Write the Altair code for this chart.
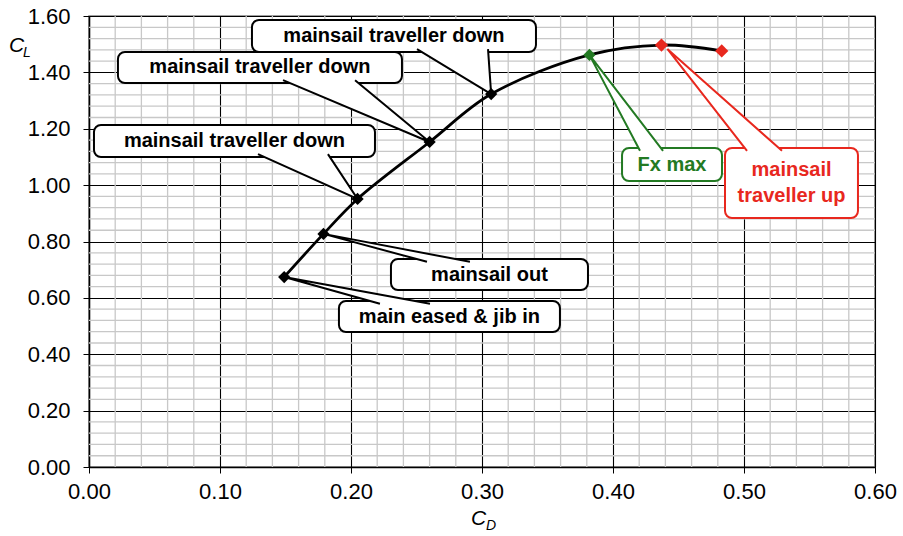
import altair as alt
import pandas as pd

# ---- data ----
cd = [0.149, 0.179, 0.205, 0.260, 0.307, 0.382, 0.437, 0.483]
cl = [0.674, 0.827, 0.951, 1.153, 1.323, 1.462, 1.497, 1.476]
group = ["base", "base", "base", "base", "base", "fx", "up", "up"]

x_ticks = [0.0, 0.1, 0.2, 0.3, 0.4, 0.5, 0.6]
y_ticks = [0.0, 0.2, 0.4, 0.6, 0.8, 1.0, 1.2, 1.4, 1.6]

labels = ["mainsail traveller down", "mainsail traveller down", "mainsail traveller down",
          "mainsail out", "main eased & jib in", "Fx max", "mainsail\ntraveller up"]
label_point = [4, 3, 2, 1, 0, 5, 6]
label_group = ["base", "base", "base", "base", "base", "fx", "up"]

# ---- annotation layout (data units) ----
box_x1 = [0.1244, 0.0221, 0.0038, 0.2305, 0.1908, 0.4069, 0.4855]
box_x2 = [0.3412, 0.2389, 0.2183, 0.3809, 0.3595, 0.4832, 0.5870]
box_y1 = [1.4723, 1.3623, 1.0998, 0.6279, 0.4789, 1.0146, 0.8834]
box_y2 = [1.5858, 1.4723, 1.2133, 0.7379, 0.5889, 1.1317, 1.1317]
wedge_b1 = [0.2504, 0.1481, 0.1290, 0.2580, 0.2221, 0.4206, 0.5023]
wedge_b2 = [0.3046, 0.2031, 0.1824, 0.2908, 0.2603, 0.4382, 0.5290]
wedge_side = ["bottom", "bottom", "bottom", "top", "top", "top", "top"]
apex_shift = [(0, 0)] * 6 + [(0.0045, -0.014)]

colors = {"base": "#000000", "fx": "#237a23", "up": "#e8281e"}

pts = pd.DataFrame({"cd": cd, "cl": cl, "g": group, "o": list(range(len(cd))),
                    "s": [150 if g != "up" else 175 for g in group]})

boxes = pd.DataFrame({"x1": box_x1, "x2": box_x2, "y1": box_y1, "y2": box_y2,
                      "g": label_group})

eps = 0.01
wrows = []
for i in range(len(labels)):
    if wedge_side[i] == "bottom":
        by = box_y1[i] + eps
    else:
        by = box_y2[i] - eps
    p = label_point[i]
    ax = cd[p] + apex_shift[i][0]
    ay = cl[p] + apex_shift[i][1]
    wrows += [
        {"id": i, "ord": 0, "x": wedge_b1[i], "y": by, "g": label_group[i]},
        {"id": i, "ord": 1, "x": ax, "y": ay, "g": label_group[i]},
        {"id": i, "ord": 2, "x": wedge_b2[i], "y": by, "g": label_group[i]},
    ]
wedges = pd.DataFrame(wrows)

trows = []
for i, lab in enumerate(labels):
    lines = lab.split("\n")
    cx = (box_x1[i] + box_x2[i]) / 2
    cy = (box_y1[i] + box_y2[i]) / 2
    if len(lines) == 1:
        trows.append({"t": lab, "x": cx, "y": cy, "g": label_group[i]})
    else:
        trows.append({"t": lines[0], "x": cx, "y": cy + 0.046, "g": label_group[i]})
        trows.append({"t": lines[1], "x": cx, "y": cy - 0.046, "g": label_group[i]})
texts = pd.DataFrame(trows)

minor_x = [round(i * 0.02, 2) for i in range(31) if i % 5 != 0]
minor_y = [round(i * 0.04, 2) for i in range(41) if i % 5 != 0]

FONT = "Liberation Sans"
xs = alt.Scale(domain=[0, 0.6], nice=False, zero=False)
ys = alt.Scale(domain=[0, 1.6], nice=False, zero=False)
cscale = alt.Scale(domain=list(colors.keys()), range=list(colors.values()))

x_axis = alt.Axis(values=x_ticks, format=".2f", title=None, labelFont=FONT,
                  labelFontSize=22, labelColor="black", tickColor="black",
                  tickSize=6, domainColor="black", domainWidth=1.5, gridColor="black",
                  gridWidth=1.1, labelPadding=8, grid=True, labelFlush=False,
                  labelOverlap=False)
y_axis = alt.Axis(values=y_ticks, format=".2f", title=None, labelFont=FONT,
                  labelFontSize=22, labelColor="black", tickColor="black",
                  tickSize=6, domainColor="black", domainWidth=1.5, gridColor="black",
                  gridWidth=1.1, labelPadding=13, grid=True, labelFlush=False,
                  labelOverlap=False)

base_axes = alt.Chart(pts).mark_point(opacity=0).encode(
    x=alt.X("cd:Q", scale=xs, axis=x_axis),
    y=alt.Y("cl:Q", scale=ys, axis=y_axis),
)

mgx = alt.Chart(pd.DataFrame({"v": minor_x})).mark_rule(
    color="#c8c8c8", strokeWidth=1.3).encode(x=alt.X("v:Q", scale=xs))
mgy = alt.Chart(pd.DataFrame({"v": minor_y})).mark_rule(
    color="#c8c8c8", strokeWidth=1.3).encode(y=alt.Y("v:Q", scale=ys))

box_layer = alt.Chart(boxes).mark_rect(
    fill="white", cornerRadius=7, strokeWidth=2).encode(
    x=alt.X("x1:Q", scale=xs), x2="x2:Q",
    y=alt.Y("y1:Q", scale=ys), y2="y2:Q",
    stroke=alt.Color("g:N", scale=cscale, legend=None),
)

wedge_layer = alt.Chart(wedges).mark_line(
    fill="white", strokeWidth=2, strokeJoin="miter").encode(
    x=alt.X("x:Q", scale=xs), y=alt.Y("y:Q", scale=ys),
    detail="id:N", order="ord:Q",
    stroke=alt.Color("g:N", scale=cscale, legend=None),
)

curve = alt.Chart(pts).mark_line(
    color="black", strokeWidth=2.8, interpolate="catmull-rom").encode(
    x=alt.X("cd:Q", scale=xs), y=alt.Y("cl:Q", scale=ys), order="o:Q")

markers = alt.Chart(pts).mark_point(
    shape="diamond", filled=True, opacity=1).encode(
    x=alt.X("cd:Q", scale=xs), y=alt.Y("cl:Q", scale=ys),
    size=alt.Size("s:Q", scale=None, legend=None),
    color=alt.Color("g:N", scale=cscale, legend=None),
)

text_layer = alt.Chart(texts).mark_text(
    font=FONT, fontWeight="bold", fontSize=20, baseline="middle",
    align="center").encode(
    x=alt.X("x:Q", scale=xs), y=alt.Y("y:Q", scale=ys), text="t:N",
    color=alt.Color("g:N", scale=cscale, legend=None),
)

one = pd.DataFrame({"a": [0]})
cl_c = alt.Chart(one).mark_text(text="C", font=FONT, fontStyle="italic",
                                fontSize=21, align="left", baseline="alphabetic",
                                color="black").encode(x=alt.value(-80), y=alt.value(36))
cl_s = alt.Chart(one).mark_text(text="L", font=FONT, fontStyle="italic",
                                fontSize=14, align="left", baseline="alphabetic",
                                color="black").encode(x=alt.value(-66), y=alt.value(41))
cd_c = alt.Chart(one).mark_text(text="C", font=FONT, fontStyle="italic",
                                fontSize=21, align="left", baseline="alphabetic",
                                color="black").encode(x=alt.value(382), y=alt.value(509))
cd_s = alt.Chart(one).mark_text(text="D", font=FONT, fontStyle="italic",
                                fontSize=14, align="left", baseline="alphabetic",
                                color="black").encode(x=alt.value(397), y=alt.value(514))

chart = alt.layer(
    mgx, mgy, base_axes, box_layer, wedge_layer, curve, markers, text_layer,
    cl_c, cl_s, cd_c, cd_s,
).properties(
    width=786, height=451,
    autosize=alt.AutoSizeParams(type="none"),
    padding={"left": 89, "top": 16, "right": 28, "bottom": 69},
).configure_view(stroke="#808080", strokeWidth=1.5)

chart.save("out.html", embed_options={"renderer": "svg", "actions": False})
